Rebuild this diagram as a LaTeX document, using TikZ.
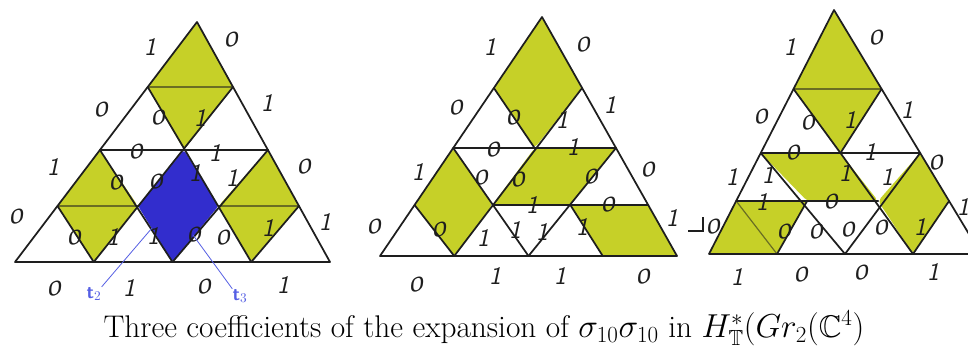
\documentclass[tikz,border=0pt]{standalone}
\usepackage{amssymb}
\usetikzlibrary{calc}
\definecolor{ylw}{RGB}{198,208,40}
\definecolor{blu}{RGB}{50,45,205}
\definecolor{tlab}{RGB}{85,95,228}
\definecolor{ink}{RGB}{30,30,30}
\newcommand\mklat[9]{%
  \foreach \tJ/\tY in {0/#5,1/#6,2/#7,3/#8}{%
    \pgfmathsetmacro\tS{(#5-\tY)/(#5-#9)}%
    \pgfmathsetmacro\tXl{#2+\tS*(#4-#2)}%
    \pgfmathsetmacro\tXr{#3+\tS*(#4-#3)}%
    \pgfmathtruncatemacro\tN{4-\tJ}%
    \foreach \tI in {0,...,\tN}{%
      \pgfmathsetmacro\tX{\tXl+\tI*(\tXr-\tXl)/\tN}%
      \coordinate (#1-\tI-\tJ) at (\tX,\tY);%
    }%
  }%
  \coordinate (#1-0-4) at (#4,#9);%
}
\newcommand\zr{\rotatebox{15}{\scalebox{1.25}[0.8]{0}}}
\newcommand\on{1}
\begin{document}
\begin{tikzpicture}[x=0.75pt,y=-0.75pt,
  edge/.style={draw=ink,line width=1.3pt,line cap=round,line join=round},
  faint/.style={draw=ink!55!ylw,line width=0.9pt},
  yel/.style={fill=ylw,rounded corners=3pt},
  bluefill/.style={fill=blu,rounded corners=2pt},
  lab/.style={font=\fontsize{19}{19}\selectfont\sffamily\slshape,text=ink,inner sep=0pt},
  tl/.style={font=\fontsize{14}{14}\selectfont\sffamily\bfseries,text=tlab,inner sep=0pt},
  tline/.style={draw=tlab,line width=0.6pt}]
\clip (0,0) rectangle (968,356);
\fill[white] (0,0) rectangle (968,356);
\mklat{A}{15}{330}{197}{262}{206}{150}{87}{22}
\mklat{B}{380}{677}{542}{256}{205}{148}{88}{17}
\mklat{C}{709}{981}{834}{254}{201}{153}{89}{10}

% ---- fills
\fill[yel] (A-0-4) -- (A-0-3) -- (A-1-2) -- (A-1-3) -- cycle;
\fill[yel] (A-0-2) -- (A-0-1) -- (A-1-0) -- (A-1-1) -- cycle;
\fill[yel] (A-2-2) -- (A-2-1) -- (A-3-0) -- (A-3-1) -- cycle;
\fill[bluefill] (A-1-2) -- (A-1-1) -- (A-2-0) -- (A-2-1) -- cycle;

\fill[yel] (B-0-4) -- (B-0-3) -- (B-1-2) -- (B-1-3) -- cycle;
\fill[yel] (B-0-2) -- (B-0-1) -- (B-1-0) -- (B-1-1) -- cycle;
\fill[yel] (B-1-2) -- (B-2-2) -- (B-2-1) -- (B-1-1) -- cycle;
\fill[yel] (B-2-1) -- (B-3-1) -- (B-4-0) -- (B-3-0) -- cycle;

\fill[yel] (C-0-4) -- (C-0-3) -- (C-1-2) -- (C-1-3) -- cycle;
\fill[yel] (C-0-2) -- (C-1-2) -- (C-2-1) -- (C-1-1) -- cycle;
\fill[yel] (C-0-0) -- (C-1-0) -- (C-1-1) -- (C-0-1) -- cycle;
\fill[yel] (C-2-2) -- (C-2-1) -- (C-3-0) -- (C-3-1) -- cycle;

% ---- faint lines inside yellow
\draw[faint] (A-0-3) -- (A-1-3);
\draw[faint] (A-0-1) -- (A-1-1);
\draw[faint] (A-2-1) -- (A-3-1);
\draw[faint] (C-0-3) -- (C-1-3);
\draw[faint] (C-0-1) -- (C-1-0);

% ---- triangle A (full grid)
\draw[edge] (A-0-0) -- (A-4-0) -- (A-0-4) -- cycle;
\draw[edge] (A-0-2) -- (A-2-2);
\draw[edge] (A-0-1) -- (A-1-0);
\draw[edge] (A-0-2) -- (A-2-0);
\draw[edge] (A-0-3) -- (A-3-0);
\draw[edge] (A-1-0) -- (A-1-3);
\draw[edge] (A-2-0) -- (A-2-2);
\draw[edge] (A-3-0) -- (A-3-1);

% ---- triangle B
\draw[edge] (B-0-0) -- (B-4-0) -- (B-0-4) -- cycle;
\draw[edge] (B-0-2) -- (B-2-2);
\draw[edge] (B-1-1) -- (B-3-1);
\draw[edge] (B-0-1) -- (B-1-0);
\draw[edge] (B-0-2) -- (B-2-0);
\draw[edge] (B-0-3) -- (B-1-2);
\draw[edge] (B-2-1) -- (B-3-0);
\draw[edge] (B-1-0) -- (B-1-3);
\draw[edge] (B-2-0) -- (B-2-2);

% ---- triangle C
\draw[edge] (C-0-0) -- (C-4-0) -- (C-0-4) -- cycle;
\draw[edge] (C-0-2) -- (C-2-2);
\draw[edge] (C-0-1) -- (C-2-1);
\draw[edge] (C-0-2) -- (C-2-0);
\draw[edge] (C-1-2) -- (C-3-0);
\draw[edge] (C-0-3) -- (C-1-2);
\draw[edge] (C-1-0) -- (C-1-1);
\draw[edge] (C-1-2) -- (C-1-3);
\draw[edge] (C-2-0) -- (C-2-2);
\draw[edge] (C-3-0) -- (C-3-1);
\coordinate (m1) at (688,231);
\coordinate (m2) at (703,231);
\coordinate (m3) at (703,217);
\draw[draw=ink,line width=0.8pt] (m1) -- (m2) -- (m3);

% ---- labels
\foreach \x/\y/\t [count=\k] in {
 150/47/\on,100/110/\zr,53/167/\on,15/217/\zr,
 230/40/\zr,267/103/\on,303/167/\zr,325/222/\on,
 53/289/\zr,129/288/\on,203/287/\zr,283/285/\on,
 157/118/\zr,200/118/\on,135/152/\zr,215/153/\on,
 115/183/\zr,155/182/\zr,195/173/\on,232/178/\on,
 73/238/\zr,113/237/\on,153/236/\on,193/235/\zr,222/238/\zr,268/228/\on}
 \node[lab] (la\k) at (\x,\y) {\t};
\foreach \x/\y/\t [count=\k] in {
 490/47/\on,455/108/\zr,418/172/\on,373/227/\zr,
 582/45/\zr,610/105/\on,647/170/\zr,672/218/\on,
 415/285/\zr,495/276/\on,560/276/\on,642/277/\zr,
 512/118/\zr,562/120/\on,492/150/\zr,573/147/\on,
 480/178/\zr,517/180/\zr,590/177/\zr,
 532/205/\on,607/205/\zr,
 438/230/\zr,483/238/\on,515/230/\on,542/232/\on,582/227/\on}
 \node[lab] (lb\k) at (\x,\y) {\t};
\foreach \x/\y/\t [count=\k] in {
 790/47/\on,760/117/\zr,732/177/\on,712/227/\zr,
 875/38/\zr,907/110/\on,935/163/\zr,963/207/\on,
 737/277/\on,800/275/\zr,860/273/\zr,933/272/\on,
 807/123/\zr,850/120/\on,792/153/\zr,870/152/\on,
 768/175/\on,845/173/\on,887/177/\on,
 762/202/\on,830/202/\zr,
 783/232/\zr,815/232/\zr,847/230/\zr,880/228/\zr,920/227/\on}
 \node[lab] (lc\k) at (\x,\y) {\t};

% ---- t2, t3
\node[tl] (t2) at (94,294) {t$_2$};
\node[tl] (t3) at (240,296) {t$_3$};
\coordinate (b2) at (152,228);
\coordinate (b3) at (193,235);
\draw[tline] (b2) -- (t2.north east);
\draw[tline] (b3) -- (t3.north west);

% ---- caption
\node[font=\fontsize{23.5}{26}\selectfont,inner sep=0pt] (cap) at (484,328)
 {Three coefficients of the expansion of $\sigma_{10}\sigma_{10}$ in $H^*_{\mathbb{T}}(Gr_2(\mathbb{C}^4)$};
\end{tikzpicture}
\end{document}
